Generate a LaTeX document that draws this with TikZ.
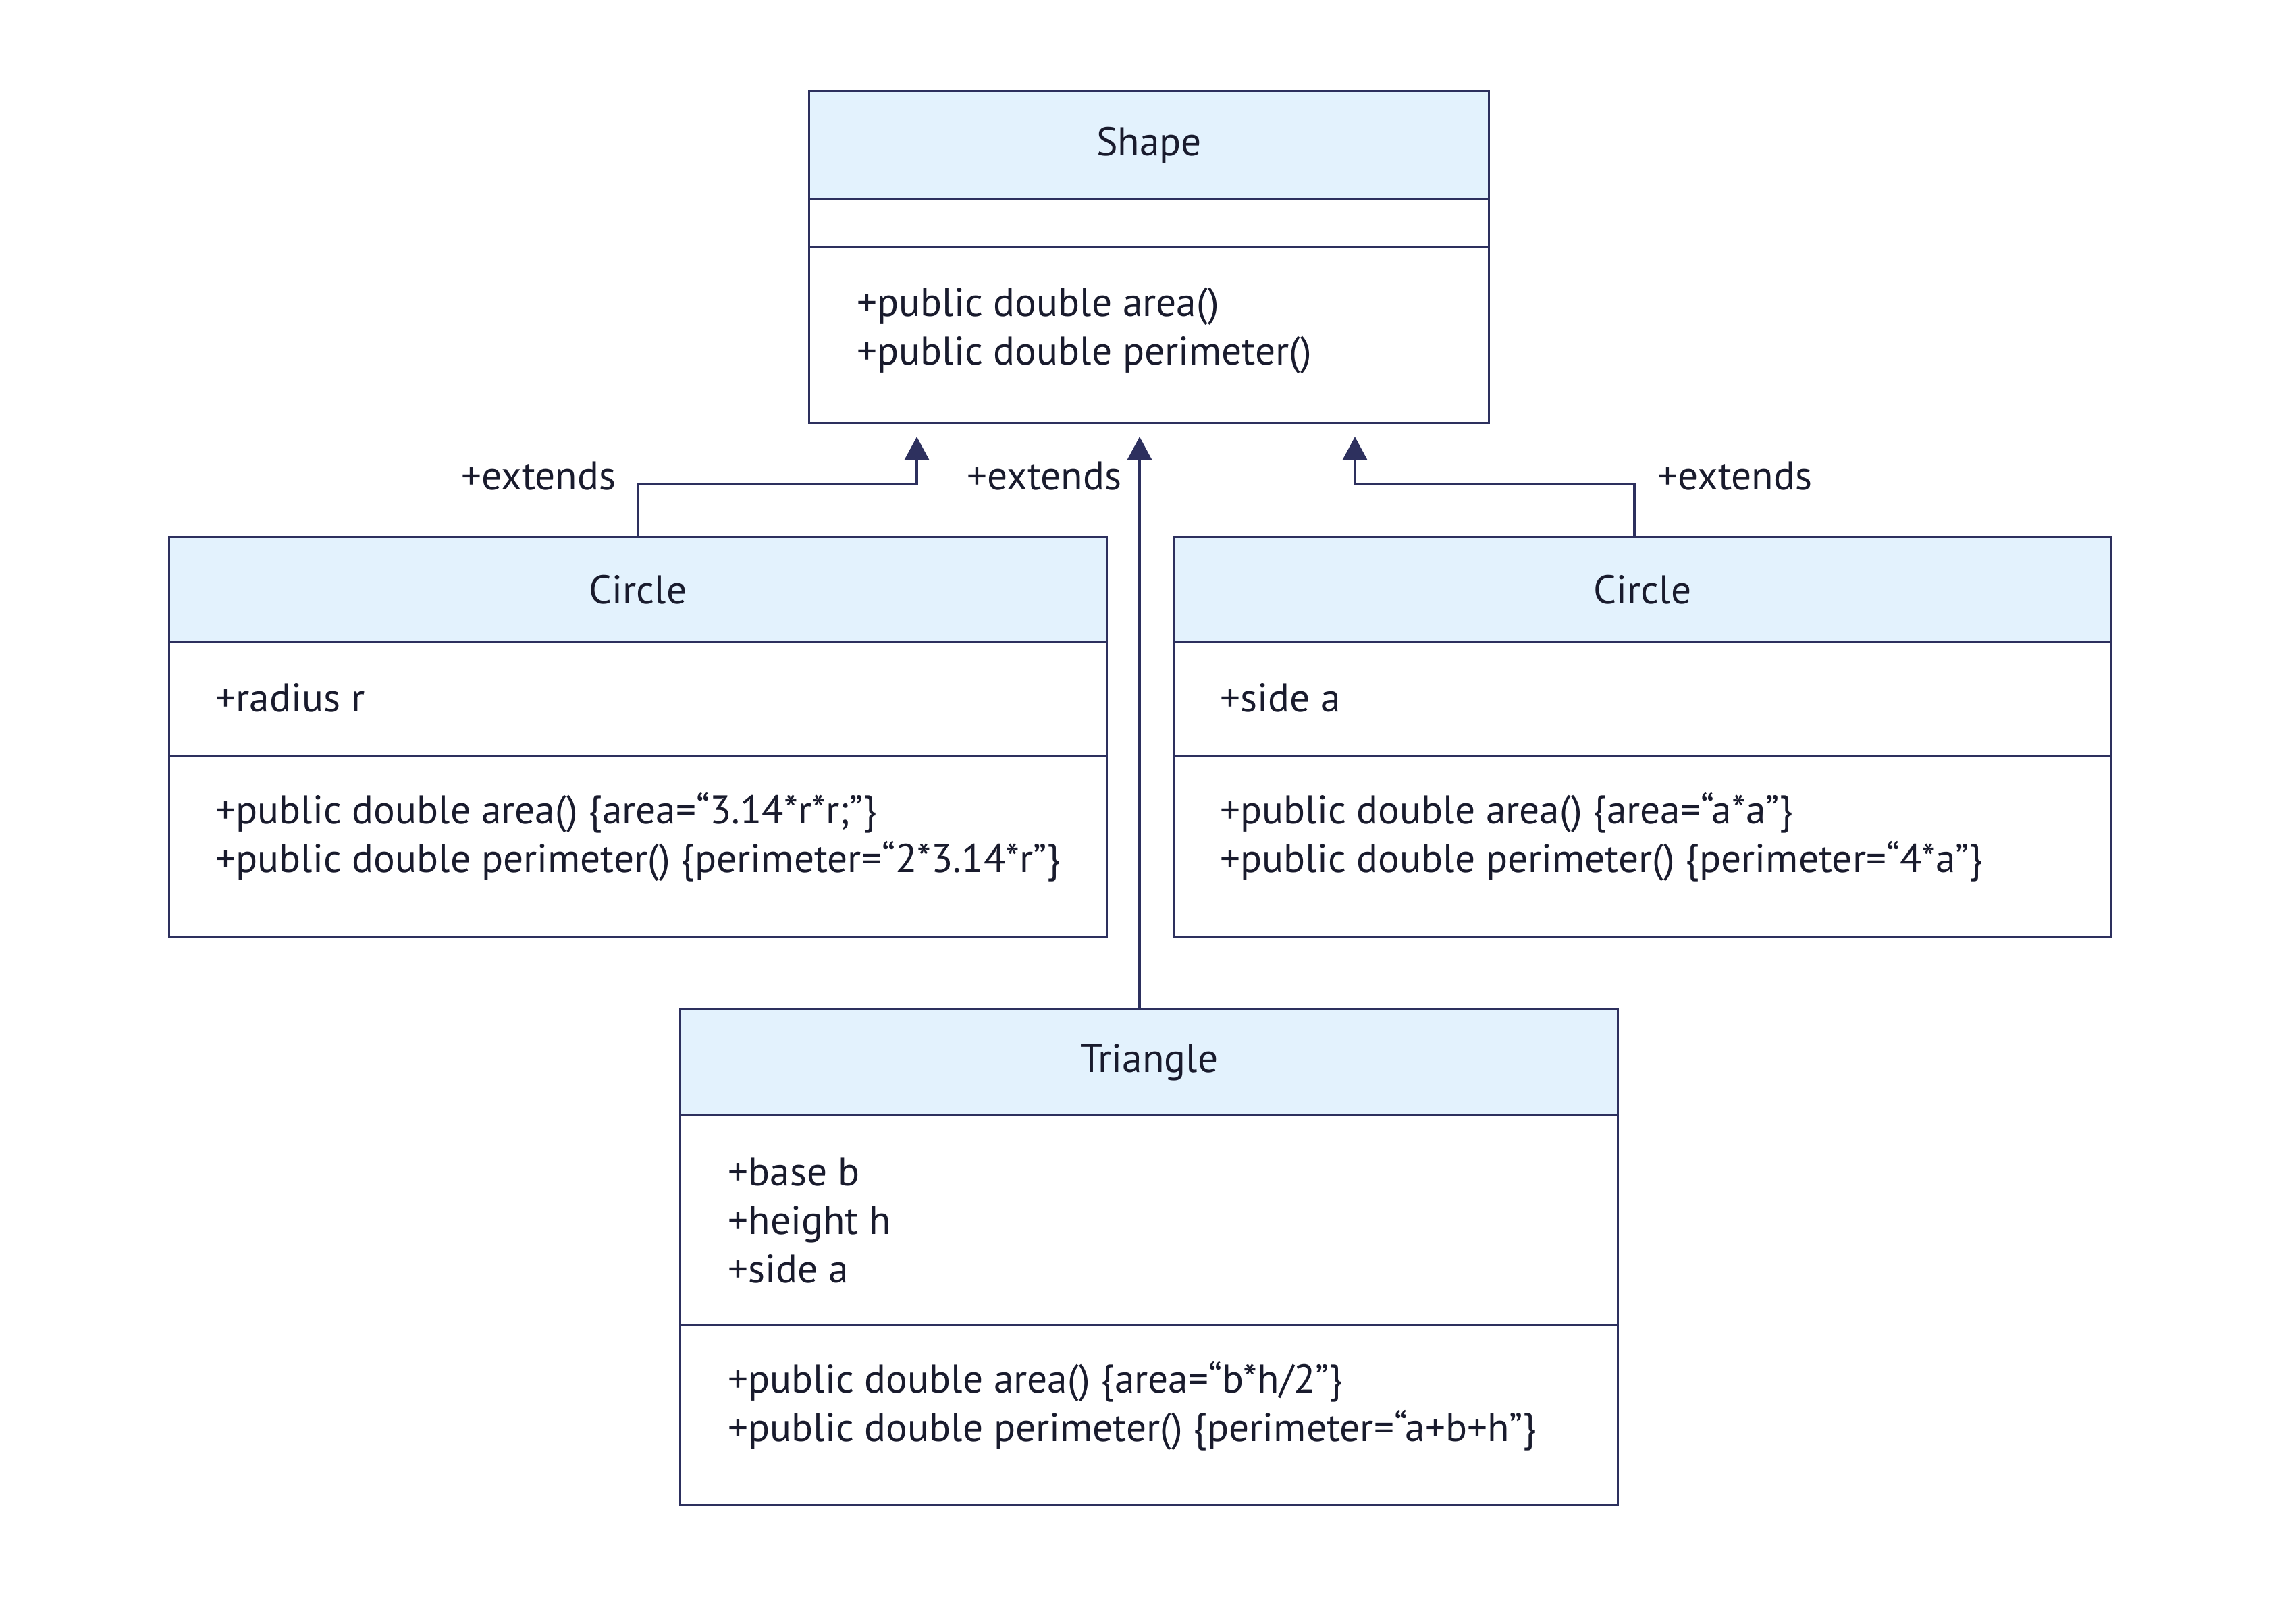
\documentclass[tikz,border=0pt]{standalone}
\usepackage{fontspec}
\setmainfont{PT Sans}
\usetikzlibrary{arrows.meta}
\definecolor{navy}{RGB}{45,48,94}
\definecolor{hdrfill}{RGB}{227,242,253}
\definecolor{txt}{RGB}{25,27,45}
\begin{document}
\begin{tikzpicture}[y=-1cm,
  comp/.style 2 args={draw=navy,line width=0.9pt,rectangle,inner sep=0pt,anchor=north west,minimum width=#1 cm,minimum height=#2 cm},
  hdr/.style 2 args={comp={#1}{#2},fill=hdrfill,text=txt,font=\fontsize{16.9}{20.5}\selectfont},
  member/.style={anchor=west,inner sep=0pt,align=left,text=txt,font=\fontsize{16.9}{20.5}\selectfont},
  lbl/.style={inner sep=0pt,text=txt,font=\fontsize{16.9}{20.5}\selectfont},
  ext/.style={draw=navy,line width=0.9pt,-{Triangle[length=3.4mm,width=3.6mm]}}
]
\path[use as bounding box,fill=white] (0,0) rectangle (34.01,24.00);

% Shape
\node[hdr={10.07}{1.59}] (shh) at (11.97,1.34) {Shape};
\node[comp={10.07}{0.71}] (sha) at (11.97,2.93) {};
\node[comp={10.07}{2.61}] (shm) at (11.97,3.64) {};
\node[member] (shmt) at (12.69,4.90) {+public double area()\\+public double perimeter()};

% Circle (left)
\node[hdr={13.89}{1.56}] (clh) at (2.49,7.94) {Circle};
\node[comp={13.89}{1.69}] (cla) at (2.49,9.50) {};
\node[comp={13.89}{2.67}] (clm) at (2.49,11.19) {};
\node[member] (clat) at (3.19,10.34) {+radius r};
\node[member] (clmt) at (3.19,12.40) {+public double area() \{area=“3.14*r*r;”\}\\+public double perimeter() \{perimeter=“2*3.14*r”\}};

% Circle (right)
\node[hdr={13.89}{1.56}] (crh) at (17.37,7.94) {Circle};
\node[comp={13.89}{1.69}] (cra) at (17.37,9.50) {};
\node[comp={13.89}{2.67}] (crm) at (17.37,11.19) {};
\node[member] (crat) at (18.07,10.34) {+side a};
\node[member] (crmt) at (18.07,12.40) {+public double area() \{area=“a*a”\}\\+public double perimeter() \{perimeter=“4*a”\}};

% Triangle
\node[hdr={13.89}{1.57}] (trh) at (10.06,14.94) {Triangle};
\node[comp={13.89}{3.10}] (tra) at (10.06,16.51) {};
\node[comp={13.89}{2.67}] (trm) at (10.06,19.61) {};
\node[member] (trat) at (10.78,18.08) {+base b\\+height h\\+side a};
\node[member] (trmt) at (10.78,20.83) {+public double area() \{area=“b*h/2”\}\\+public double perimeter() \{perimeter=“a+b+h”\}};

% connectors
\coordinate (j1) at (13.58,7.17);
\coordinate (j2) at (20.07,7.17);
\coordinate (j2b) at (24.21,7.17);
\coordinate (j3) at (16.88,14.94);
\draw[ext,shorten >=0.19cm] (clh.north) |- (j1) -- (j1 |- shm.south);
\draw[ext,shorten >=0.19cm] (j2b |- crh.north) -- (j2b) -- (j2) -- (j2 |- shm.south);
\draw[ext,shorten >=0.19cm] (j3) -- (j3 |- shm.south);

\node[lbl] (l1) at (7.98,7.05) {+extends};
\node[lbl] (l2) at (15.47,7.05) {+extends};
\node[lbl] (l3) at (25.70,7.05) {+extends};
\end{tikzpicture}
\end{document}
